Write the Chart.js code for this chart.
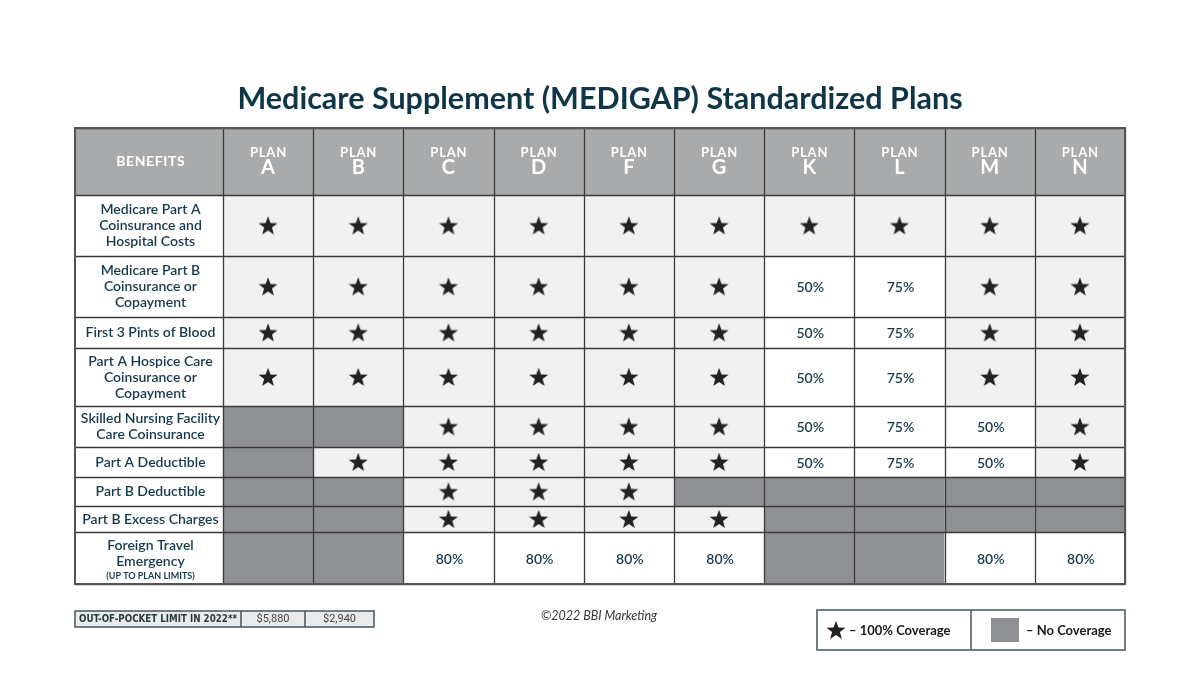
<!DOCTYPE html>
<html>
<head>
<meta charset="utf-8">
<script src="https://cdn.jsdelivr.net/npm/chart.js@4/dist/chart.umd.min.js"></script>
<style>
  body { margin: 0; background: #fff; }
  canvas { display: block; }
</style>
</head>
<body>
<canvas id="myChart" width="1200" height="675"></canvas>
<script>
// plan columns
var plans = ["A", "B", "C", "D", "F", "G", "K", "L", "M", "N"];

// benefit rows (line breaks as in the original)
var benefits = [
  ["Medicare Part A", "Coinsurance and", "Hospital Costs"],
  ["Medicare Part B", "Coinsurance or", "Copayment"],
  ["First 3 Pints of Blood"],
  ["Part A Hospice Care", "Coinsurance or", "Copayment"],
  ["Skilled Nursing Facility", "Care Coinsurance"],
  ["Part A Deductible"],
  ["Part B Deductible"],
  ["Part B Excess Charges"],
  ["Foreign Travel", "Emergency", "(UP TO PLAN LIMITS)"]
];

// 1 = 100% coverage (star), 0 = no coverage, fraction = partial
var coverage = [
  [1, 1, 1, 1, 1, 1, 1, 1, 1, 1],
  [1, 1, 1, 1, 1, 1, 0.5, 0.75, 1, 1],
  [1, 1, 1, 1, 1, 1, 0.5, 0.75, 1, 1],
  [1, 1, 1, 1, 1, 1, 0.5, 0.75, 1, 1],
  [0, 0, 1, 1, 1, 1, 0.5, 0.75, 0.5, 1],
  [0, 1, 1, 1, 1, 1, 0.5, 0.75, 0.5, 1],
  [0, 0, 1, 1, 1, 0, 0, 0, 0, 0],
  [0, 0, 1, 1, 1, 1, 0, 0, 0, 0],
  [0, 0, 0.8, 0.8, 0.8, 0.8, 0, 0, 0.8, 0.8]
];

var oopLabel = "OUT-OF-POCKET LIMIT IN 2022**";
var oopValues = ["$5,880", "$2,940"];

// layout (scale units): benefit column width, row heights (header first)
var benefitColUnits = 1.64;
var rowUnits = [67, 61, 61, 31, 58, 41, 30, 29, 26, 52];

var rowEdges = [0];
rowUnits.forEach(function (h, i) { rowEdges.push(rowEdges[i] + h); });
var xMax = benefitColUnits + plans.length;

var teal = "#15394a";
var noCoverColor = "#8f9093";

// star image used as point style
function starPath(ctx, cx, cy, R, r) {
  ctx.beginPath();
  for (var i = 0; i < 10; i++) {
    var rad = i % 2 === 0 ? R : r;
    var a = -Math.PI / 2 + i * Math.PI / 5;
    var px = cx + rad * Math.cos(a), py = cy + rad * Math.sin(a);
    if (i === 0) ctx.moveTo(px, py); else ctx.lineTo(px, py);
  }
  ctx.closePath();
}
var starImg = document.createElement("canvas");
starImg.width = 22; starImg.height = 22;
(function () {
  var c = starImg.getContext("2d");
  starPath(c, 11, 11.8, 10, 4.1);
  c.fillStyle = "#222";
  c.fill();
})();

// star points come from the coverage table
var starPoints = [];
coverage.forEach(function (row, r) {
  row.forEach(function (v, c) {
    if (v === 1) {
      starPoints.push({
        x: benefitColUnits + c + 0.5,
        y: (rowEdges[r + 1] + rowEdges[r + 2]) / 2
      });
    }
  });
});

var tablePlugin = {
  id: "table",
  beforeDatasetsDraw: function (chart) {
    var ctx = chart.ctx;
    var xs = chart.scales.x, ys = chart.scales.y;
    var X = function (v) { return xs.getPixelForValue(v); };
    var Y = function (v) { return ys.getPixelForValue(v); };
    var left = X(0), right = X(xMax), top = Y(0), bottom = Y(rowEdges[rowEdges.length - 1]);
    var labelX = X(benefitColUnits / 2) + 1.5;

    ctx.save();
    // header
    ctx.fillStyle = "#a8aaab";
    ctx.fillRect(left, top, right - left, Y(rowEdges[1]) - top);
    ctx.fillStyle = "#fff";
    ctx.textAlign = "center";
    ctx.textBaseline = "middle";
    ctx.letterSpacing = "0.6px";
    ctx.font = "bold 14px Lato, sans-serif";
    ctx.fillText("BENEFITS", labelX + 0.3, Y(rowEdges[1] / 2));
    plans.forEach(function (p, i) {
      var cx = X(benefitColUnits + i + 0.5);
      ctx.letterSpacing = "0.8px";
      ctx.font = "bold 13px Lato, sans-serif";
      ctx.fillText("PLAN", cx + 0.4, Y(25));
      ctx.letterSpacing = "0px";
      ctx.font = "bold 20px Lato, sans-serif";
      ctx.fillText(p, cx, Y(40));
    });
    ctx.letterSpacing = "0px";

    // body cells
    benefits.forEach(function (lines, r) {
      var y0 = Y(rowEdges[r + 1]), y1 = Y(rowEdges[r + 2]);
      var cy = (y0 + y1) / 2;
      ctx.fillStyle = "#fff";
      ctx.fillRect(left, y0, X(benefitColUnits) - left, y1 - y0);
      // label
      var lh = 16;
      var n = lines.length;
      var hasSmall = lines[n - 1].charAt(0) === "(";
      lines.forEach(function (t, k) {
        var small = t.charAt(0) === "(";
        ctx.font = small ? "bold 9px Lato, sans-serif" : "600 14px Lato, sans-serif";
        ctx.fillStyle = teal;
        var ly = cy + (k - (n - 1) / 2) * lh + (hasSmall ? 3 : 0);
        if (small) ly -= 1;
        ctx.fillText(t, labelX, ly);
      });
      coverage[r].forEach(function (v, c) {
        var x0 = X(benefitColUnits + c), x1 = X(benefitColUnits + c + 1);
        ctx.fillStyle = v === 0 ? noCoverColor : (v === 1 ? "#f1f1f1" : "#fff");
        ctx.fillRect(x0, y0, x1 - x0, y1 - y0);
        if (v > 0 && v < 1) {
          ctx.fillStyle = teal;
          ctx.font = "600 14px Lato, sans-serif";
          ctx.fillText(Math.round(v * 100) + "%", (x0 + x1) / 2 + 1, cy + 1);
        }
      });
    });

    // grid lines
    ctx.strokeStyle = "#3a3a3a";
    ctx.lineWidth = 1.3;
    ctx.beginPath();
    for (var c = 0; c <= plans.length; c++) {
      var gx = Math.round(X(benefitColUnits + c)) + 0.5;
      ctx.moveTo(gx, top); ctx.lineTo(gx, bottom);
    }
    rowEdges.forEach(function (e) {
      var gy = Math.round(Y(e)) + 0.5;
      ctx.moveTo(left, gy); ctx.lineTo(right, gy);
    });
    ctx.stroke();
    ctx.strokeStyle = "#555";
    ctx.lineWidth = 2;
    ctx.strokeRect(left, top, right - left, bottom - top);
    ctx.restore();
  },
  afterDraw: function (chart) {
    var ctx = chart.ctx;
    var a = chart.chartArea;
    ctx.save();
    ctx.textBaseline = "middle";

    // out-of-pocket strip
    var fy = a.bottom + 27, fh = 16;
    var cols = [a.left, a.left + 166, a.left + 230, a.left + 299];
    ctx.fillStyle = "#e9eaeb";
    ctx.fillRect(cols[0], fy, cols[3] - cols[0], fh);
    ctx.strokeStyle = "#44555e";
    ctx.lineWidth = 1.5;
    ctx.strokeRect(cols[0], fy, cols[3] - cols[0], fh);
    ctx.beginPath();
    ctx.moveTo(cols[1], fy); ctx.lineTo(cols[1], fy + fh);
    ctx.moveTo(cols[2], fy); ctx.lineTo(cols[2], fy + fh);
    ctx.stroke();
    ctx.fillStyle = "#2a3a42";
    ctx.textAlign = "left";
    ctx.font = "bold 10.5px 'Liberation Sans Narrow', 'DejaVu Sans Condensed', sans-serif";
    var w = ctx.measureText(oopLabel).width;
    var maxW = cols[1] - cols[0] - 8;
    ctx.save();
    ctx.translate(cols[0] + 4, fy + fh / 2 + 0.5);
    if (w > maxW) ctx.scale(maxW / w, 1);
    ctx.fillText(oopLabel, 0, 0);
    ctx.restore();
    ctx.textAlign = "center";
    ctx.font = "11px 'Liberation Sans Narrow', Roboto, sans-serif";
    ctx.fillStyle = "#444";
    oopValues.forEach(function (v, i) {
      ctx.fillText(v, (cols[i + 1] + cols[i + 2]) / 2, fy + fh / 2 + 0.5);
    });

    // copyright
    ctx.font = "italic 12.5px Lato, sans-serif";
    ctx.fillStyle = "#333";
    ctx.fillText("\u00A92022 BBI Marketing", 599, a.bottom + 32);

    // legend box
    var lx = 817, ly = a.bottom + 26, lw = a.right - lx, lh = 40, mid = 971;
    ctx.strokeStyle = "#44555e";
    ctx.lineWidth = 1.5;
    ctx.strokeRect(lx, ly, lw, lh);
    ctx.beginPath();
    ctx.moveTo(mid, ly); ctx.lineTo(mid, ly + lh);
    ctx.stroke();
    ctx.drawImage(starImg, 836 - 11, ly + lh / 2 - 11);
    ctx.fillStyle = "#1a1a1a";
    ctx.textAlign = "left";
    ctx.font = "bold 13px Lato, sans-serif";
    ctx.fillText("\u2013 100% Coverage", 849, ly + lh / 2 + 1);
    ctx.fillStyle = noCoverColor;
    ctx.fillRect(991, ly + 8, 28, 24);
    ctx.fillStyle = "#1a1a1a";
    ctx.fillText("\u2013 No Coverage", 1026, ly + lh / 2 + 1);
    ctx.restore();
  }
};

new Chart(document.getElementById("myChart"), {
  type: "scatter",
  data: {
    datasets: [
      {
        label: "100% Coverage",
        data: starPoints,
        pointStyle: starImg,
        pointRadius: 10,
        pointHoverRadius: 10
      }
    ]
  },
  options: {
    responsive: false,
    animation: false,
    events: [],
    layout: { padding: { left: 75, right: 75, top: 0, bottom: 91 } },
    scales: {
      x: { type: "linear", display: false, min: 0, max: xMax },
      y: { type: "linear", display: false, reverse: true, min: 0, max: rowEdges[rowEdges.length - 1] }
    },
    plugins: {
      legend: { display: false },
      tooltip: { enabled: false },
      title: {
        display: true,
        text: "Medicare Supplement (MEDIGAP) Standardized Plans",
        color: "#0f3646",
        font: { family: "Lato, sans-serif", size: 30.5, weight: "bold", lineHeight: 1.2 },
        padding: { top: 81, bottom: 10.4 }
      }
    }
  },
  plugins: [tablePlugin]
});
</script>
</body>
</html>
